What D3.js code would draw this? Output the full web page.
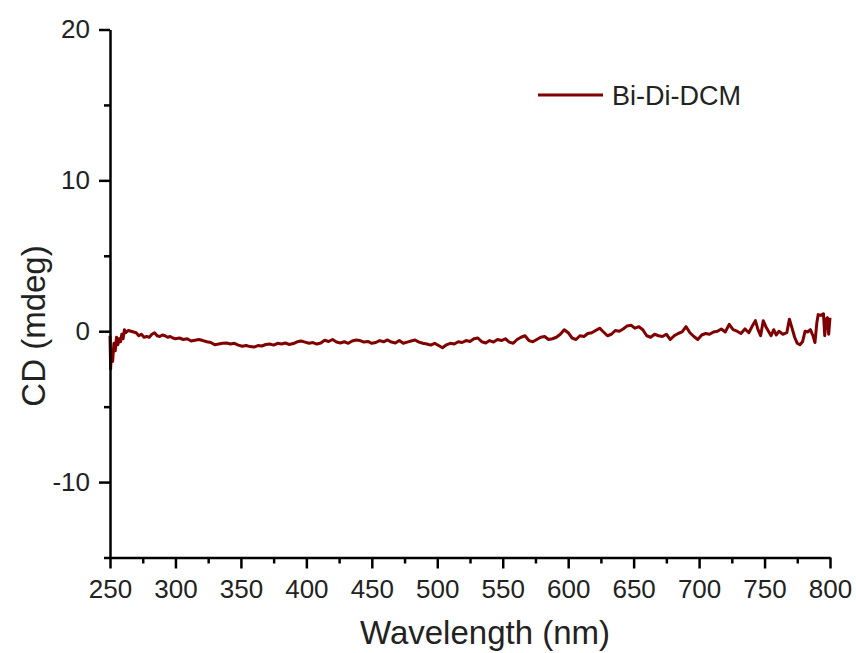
<!DOCTYPE html>
<html lang="en">
<head>
    <meta charset="UTF-8">
    <title>CD spectrum - Bi-Di-DCM</title>
    <script src="https://d3js.org/d3.v7.min.js"></script>
    <style>
        body, html {
            margin: 0;
            padding: 0;
            background: #fff;
        }
        text {
            font-family: "Liberation Sans", Arial, sans-serif;
            fill: #222;
        }
    </style>
</head>
<body>
    <div id="chart"></div>
    <script>
        // Data (wavelength in nm, CD in mdeg)
        const wavelength = [
            250, 250.5, 251, 252, 253, 254, 255, 256, 257, 258, 259, 260, 261, 262, 264, 266, 268,
            270, 272, 274, 276, 278, 280, 282, 284, 286, 288, 290, 292, 294, 296, 298,
            300, 303, 306, 309, 312, 315, 318, 321, 324, 327, 330, 333, 336, 339, 342, 345, 348,
            351, 354, 357, 360, 363, 366, 369, 372, 375, 378, 381, 384, 387, 390, 393, 396, 399,
            402, 405, 408, 411, 414, 417, 420, 423, 426, 429, 432, 435, 438, 441, 444, 447, 450,
            453, 456, 459, 462, 465, 468, 471, 474, 477, 480, 483, 486, 489, 492, 495, 498, 501,
            504, 507, 510, 513, 516, 519, 522, 525, 528, 531, 534, 537, 540, 543, 546, 549, 552,
            555, 558, 561, 564, 567, 570, 573, 576, 579, 582, 585, 588, 591, 594, 597, 600, 603,
            606, 609, 612, 615, 618, 621, 624, 627, 630, 633, 636, 639, 642, 645, 648, 651, 654,
            657, 660, 663, 666, 669, 672, 675, 678, 681, 684, 687, 690, 693, 696, 699, 702, 705,
            708, 711, 714, 717, 720, 723, 726, 729, 732, 735, 738, 741, 743, 745, 747, 749, 751,
            753, 755, 757, 759, 761, 764, 767, 769, 771, 773, 775, 777, 779, 781, 783, 785, 787,
            788.5, 790, 791, 793, 795, 796, 797, 798, 799, 800
        ];
        const cd = [
            -0.3, -2.5, -1.2, -2.0, -0.8, -1.3, -0.4, -0.9, -0.5, -0.7, -0.2, -0.5, 0.1, -0.1, 0.05, 0.0, -0.05,
            -0.1, -0.3, -0.2, -0.4, -0.35, -0.4, -0.2, -0.1, -0.3, -0.35, -0.25, -0.3, -0.4, -0.35, -0.45,
            -0.50, -0.45, -0.55, -0.50, -0.65, -0.60, -0.55, -0.62, -0.70, -0.75, -0.90, -0.85, -0.80, -0.78, -0.85, -0.80, -0.92,
            -1.00, -0.95, -1.02, -1.05, -0.95, -0.98, -0.88, -0.85, -0.92, -0.80, -0.85, -0.78, -0.88, -0.82, -0.70, -0.65, -0.72,
            -0.80, -0.75, -0.85, -0.78, -0.60, -0.68, -0.55, -0.72, -0.78, -0.70, -0.80, -0.65, -0.58, -0.62, -0.72, -0.68, -0.80,
            -0.75, -0.62, -0.70, -0.58, -0.72, -0.78, -0.62, -0.80, -0.72, -0.65, -0.58, -0.72, -0.80, -0.85, -0.92, -0.80, -0.95,
            -1.10, -0.90, -0.80, -0.85, -0.70, -0.75, -0.62, -0.68, -0.50, -0.45, -0.70, -0.78, -0.62, -0.72, -0.55, -0.62, -0.50,
            -0.72, -0.80, -0.55, -0.40, -0.30, -0.62, -0.70, -0.55, -0.40, -0.35, -0.55, -0.50, -0.40, -0.20, 0.10, -0.10, -0.45,
            -0.55, -0.30, -0.35, -0.15, -0.10, 0.05, 0.20, -0.05, -0.30, -0.20, 0.05, 0.00, 0.15, 0.35, 0.40, 0.20, 0.30,
            0.10, -0.30, -0.40, -0.20, -0.30, -0.35, -0.20, -0.55, -0.30, -0.15, -0.05, 0.30, -0.10, -0.35, -0.55, -0.25, -0.15,
            -0.20, -0.05, 0.00, 0.15, -0.05, 0.45, 0.10, 0.00, -0.15, 0.15, -0.10, 0.40, 0.70, 0.10, -0.30, 0.70, 0.30,
            0.00, -0.30, 0.10, -0.25, 0.00, -0.20, -0.10, 0.80, 0.20, -0.40, -0.80, -0.90, -0.70, 0.00, -0.05, 0.10, -0.30,
            -0.75, 0.60, 1.10, 1.05, 1.15, -0.30, 0.80, 0.90, -0.20, 0.90
        ];
        const seriesName = "Bi-Di-DCM";
        const xMajorTicks = [250, 300, 350, 400, 450, 500, 550, 600, 650, 700, 750, 800];
        const xMinorTicks = [275, 325, 375, 425, 475, 525, 575, 625, 675, 725, 775];
        const yMajorTicks = [-10, 0, 10, 20];
        const yMinorTicks = [-15, -5, 5, 15];

        const width = 856, height = 653;
        const svg = d3.select("#chart").append("svg")
            .attr("width", width)
            .attr("height", height);

        const x = d3.scaleLinear().domain([250, 800]).range([110, 830]);
        const y = d3.scaleLinear().domain([-15, 20]).range([557.5, 29.5]);

        const data = wavelength.map((w, i) => ({w: w, v: cd[i]}));

        // data line
        svg.append("path")
            .datum(data)
            .attr("fill", "none")
            .attr("stroke", "#800000")
            .attr("stroke-width", 3)
            .attr("stroke-linejoin", "round")
            .attr("d", d3.line().x(d => x(d.w)).y(d => y(d.v)));

        // minor ticks
        svg.append("g")
            .attr("transform", "translate(0,557.5)")
            .call(d3.axisBottom(x).tickValues(xMinorTicks).tickSize(6).tickSizeOuter(0).tickFormat(""))
            .call(g => g.select(".domain").remove())
            .call(g => g.selectAll("line").attr("stroke", "#000").attr("stroke-width", 2.5));
        svg.append("g")
            .attr("transform", "translate(110,0)")
            .call(d3.axisLeft(y).tickValues(yMinorTicks).tickSize(6).tickSizeOuter(0).tickFormat(""))
            .call(g => g.select(".domain").remove())
            .call(g => g.selectAll("line").attr("stroke", "#000").attr("stroke-width", 2.5));

        // major axes (plain hyphen for negative labels, as in the original)
        const xAxis = svg.append("g")
            .attr("transform", "translate(0,557.5)")
            .call(d3.axisBottom(x).tickValues(xMajorTicks).tickSize(11).tickSizeOuter(0).tickPadding(11)
                .tickFormat(d => String(d)));
        const yAxis = svg.append("g")
            .attr("transform", "translate(110,0)")
            .call(d3.axisLeft(y).tickValues(yMajorTicks).tickSize(11).tickSizeOuter(0).tickPadding(9)
                .tickFormat(d => String(d)));

        [xAxis, yAxis].forEach(g => {
            g.select(".domain").attr("stroke", "#000").attr("stroke-width", 2.5);
            g.selectAll("line").attr("stroke", "#000").attr("stroke-width", 2.5);
            g.selectAll("text")
                .attr("fill", "#222")
                .style("font-family", '"Liberation Sans", Arial, sans-serif')
                .style("font-size", "26px");
        });

        // axis titles
        svg.append("text")
            .attr("x", 485)
            .attr("y", 644)
            .attr("text-anchor", "middle")
            .style("font-size", "33px")
            .text("Wavelength (nm)");

        svg.append("text")
            .attr("transform", "translate(45,326) rotate(-90)")
            .attr("text-anchor", "middle")
            .style("font-size", "33px")
            .text("CD (mdeg)");

        // legend
        svg.append("line")
            .attr("x1", 538).attr("x2", 603)
            .attr("y1", 95).attr("y2", 95)
            .attr("stroke", "#800000")
            .attr("stroke-width", 3);
        svg.append("text")
            .attr("x", 612)
            .attr("y", 105)
            .style("font-size", "27px")
            .text(seriesName);
    </script>
</body>
</html>
